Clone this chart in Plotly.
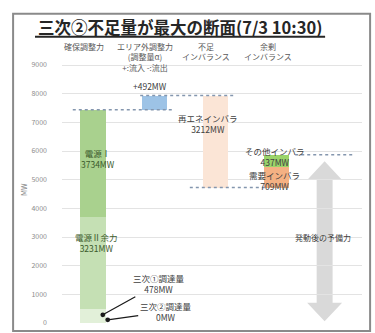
import plotly.graph_objects as go

# ---- data (MW) ----
columns = ["確保調整力", "エリア外調整力<br>(調整量α)<br>+:流入 -:流出", "不足<br>インバランス", "余剰<br>インバランス"]

# 確保調整力 stack (bottom -> top)
secured_names = ["三次②調達量", "三次①調達量", "電源Ⅱ余力", "電源Ⅰ"]
secured_values = [0, 478, 3231, 3734]
secured_colors = ["#E2F0D9", "#E2F0D9", "#C5E0B4", "#A9D18E"]

# エリア外調整力
area_flow = 492
# 不足インバランス
shortage_name = "再エネインバラ"
shortage_value = 3212
# 余剰インバランス (bottom -> top)
surplus_names = ["需要インバラ", "その他インバラ"]
surplus_values = [709, 437]
surplus_colors = ["#F4B183", "#9BD46A"]

reserve_label = "発動後の予備力"
yticks = [0, 1000, 2000, 3000, 4000, 5000, 6000, 7000, 8000, 9000]

FONT = "Noto Sans CJK JP"
BAR_W = 0.41

fig = go.Figure()

# 確保調整力
base = 0
secured_bases = []
for name, val, col in zip(secured_names, secured_values, secured_colors):
    secured_bases.append(base)
    fig.add_trace(go.Bar(x=[0], y=[val], base=[base], width=BAR_W, marker_color=col,
                         marker_line_width=0, name=name, showlegend=False))
    base += val
secured_total = base

# エリア外調整力
fig.add_trace(go.Bar(x=[1], y=[area_flow], base=[secured_total], width=BAR_W,
                     marker_color="#9DC3E6", marker_line_width=0, showlegend=False))
top_level = secured_total + area_flow

# 不足インバランス (hanging down from the top level)
short_base = top_level - shortage_value
fig.add_trace(go.Bar(x=[2], y=[shortage_value], base=[short_base], width=BAR_W,
                     marker_color="#FBE5D6", marker_line_width=0, showlegend=False))

# 余剰インバランス
b = short_base
surplus_bases = []
for name, val, col in zip(surplus_names, surplus_values, surplus_colors):
    surplus_bases.append(b)
    fig.add_trace(go.Bar(x=[3], y=[val], base=[b], width=BAR_W, marker_color=col,
                         marker_line_width=0, showlegend=False))
    b += val
surplus_top = b

shapes = []
dot = dict(color="#8496AE", width=1.5, dash="dot")
# connector lines
shapes.append(dict(type="line", xref="x", yref="y", x0=-0.33, x1=1.3,
                   y0=secured_total, y1=secured_total, line=dot))
shapes.append(dict(type="line", xref="x", yref="y", x0=0.77, x1=2.32,
                   y0=top_level, y1=top_level, line=dot))
shapes.append(dict(type="line", xref="x", yref="y", x0=1.58, x1=2.81,
                   y0=short_base, y1=short_base, line=dot))
shapes.append(dict(type="line", xref="x", yref="y", x0=3.3, x1=4.27,
                   y0=surplus_top, y1=surplus_top, line=dot))

# double-headed reserve arrow from the surplus top down to 0
ax = 3.78
sw, hw, hl = 0.13, 0.285, 650
y_top = surplus_top - 230
y_bot = 60
path = (f"M {ax},{y_top} L {ax+hw},{y_top-hl} L {ax+sw},{y_top-hl} "
        f"L {ax+sw},{y_bot+hl} L {ax+hw},{y_bot+hl} L {ax},{y_bot} "
        f"L {ax-hw},{y_bot+hl} L {ax-sw},{y_bot+hl} L {ax-sw},{y_top-hl} "
        f"L {ax-hw},{y_top-hl} Z")
shapes.append(dict(type="path", xref="x", yref="y", path=path,
                   fillcolor="#D9D9D9", line=dict(width=0), layer="below"))

# outer frame
shapes.append(dict(type="rect", xref="paper", yref="paper", x0=-0.163, x1=1.027,
                   y0=-0.03, y1=1.154, line=dict(color="#8A8A8A", width=2)))
# title underline
shapes.append(dict(type="line", xref="paper", yref="paper", x0=-0.09, x1=0.877,
                   y0=1.068, y1=1.068, line=dict(color="#262626", width=2)))

fig.update_layout(shapes=shapes)

ann = []
txt = dict(family=FONT, size=8.5, color="#404040")
# column headers
for i, c in enumerate(columns):
    ann.append(dict(x=i - 0.15, y=1.058, xref="x", yref="paper", text=c, showarrow=False,
                    xanchor="center", yanchor="top",
                    font=dict(family=FONT, size=8, color="#595959")))

# title
ann.append(dict(x=0.393, y=1.105, xref="paper", yref="paper",
                text="<b>三次②不足量が最大の断面(7/3 10:30)</b>", showarrow=False,
                xanchor="center", yanchor="middle",
                font=dict(family=FONT, size=16.5, color="#262626")))

# 電源Ⅰ, 電源Ⅱ余力 labels
ann.append(dict(x=0.08, y=secured_bases[3] + secured_values[3] * 0.54, xref="x", yref="y",
                text=f"{secured_names[3]}<br>{secured_values[3]}MW", showarrow=False,
                font=dict(family=FONT, size=8.5, color="#3B5A2B")))
ann.append(dict(x=0.05, y=secured_bases[2] + secured_values[2] * 0.72, xref="x", yref="y",
                text=f"{secured_names[2]}<br>{secured_values[2]}MW", showarrow=False,
                font=dict(family=FONT, size=8.5, color="#3B5A2B")))
# 三次① / 三次② callouts
ann.append(dict(x=0.16, y=secured_bases[1] + secured_values[1] * 0.6, xref="x", yref="y",
                text=f"{secured_names[1]}<br>{secured_values[1]}MW", showarrow=True,
                arrowhead=6, arrowsize=1, arrowwidth=1.2, arrowcolor="#1a1a1a",
                ax=56, ay=-31, font=txt))
ann.append(dict(x=0.24, y=secured_bases[0] + 110, xref="x", yref="y",
                text=f"{secured_names[0]}<br>{secured_values[0]}MW", showarrow=True,
                arrowhead=6, arrowsize=1, arrowwidth=1.2, arrowcolor="#1a1a1a",
                ax=58, ay=-8, font=txt))
# +492MW
ann.append(dict(x=0.93, y=top_level, xref="x", yref="y", text=f"+{area_flow}MW",
                showarrow=False, yanchor="bottom", yshift=2, font=txt))
# 再エネインバラ
ann.append(dict(x=1.88, y=short_base + shortage_value * 0.7, xref="x", yref="y",
                text=f"{shortage_name}<br>{shortage_value}MW", showarrow=False, font=txt))
# 余剰 labels
ann.append(dict(x=2.97, y=surplus_bases[1] + surplus_values[1] * 0.9, xref="x", yref="y",
                text=f"{surplus_names[1]}<br>{surplus_values[1]}MW", showarrow=False, font=txt))
ann.append(dict(x=2.97, y=surplus_bases[0] + surplus_values[0] * 0.35, xref="x", yref="y",
                text=f"{surplus_names[0]}<br>{surplus_values[0]}MW", showarrow=False, font=txt))
# reserve label
ann.append(dict(x=ax - 0.03, y=2990, xref="x", yref="y", text=reserve_label,
                showarrow=False, font=dict(family=FONT, size=8, color="#404040")))
# y-axis title
ann.append(dict(x=-0.13, y=0.496, xref="paper", yref="paper", text="MW", textangle=-90,
                showarrow=False, xanchor="center", yanchor="middle",
                font=dict(family=FONT, size=7.5, color="#7F7F7F")))
fig.update_layout(annotations=ann)

fig.update_layout(
    width=375, height=333,
    margin=dict(l=62, r=13, t=55, b=6),
    paper_bgcolor="white", plot_bgcolor="white",
    barmode="overlay", bargap=0,
    showlegend=False,
    xaxis=dict(range=[-0.506, 4.39], showticklabels=False, showgrid=False,
               zeroline=False, showline=False, fixedrange=True),
    yaxis=dict(range=[0, 9350], tickvals=yticks, ticktext=[str(t) for t in yticks],
               showgrid=True, gridcolor="#E3E3E3", gridwidth=1, zeroline=False,
               showline=False, ticklabelstandoff=14,
               tickfont=dict(family=FONT, size=7, color="#8C8C8C")),
    font=dict(family=FONT),
)

fig.write_html("out.html")
